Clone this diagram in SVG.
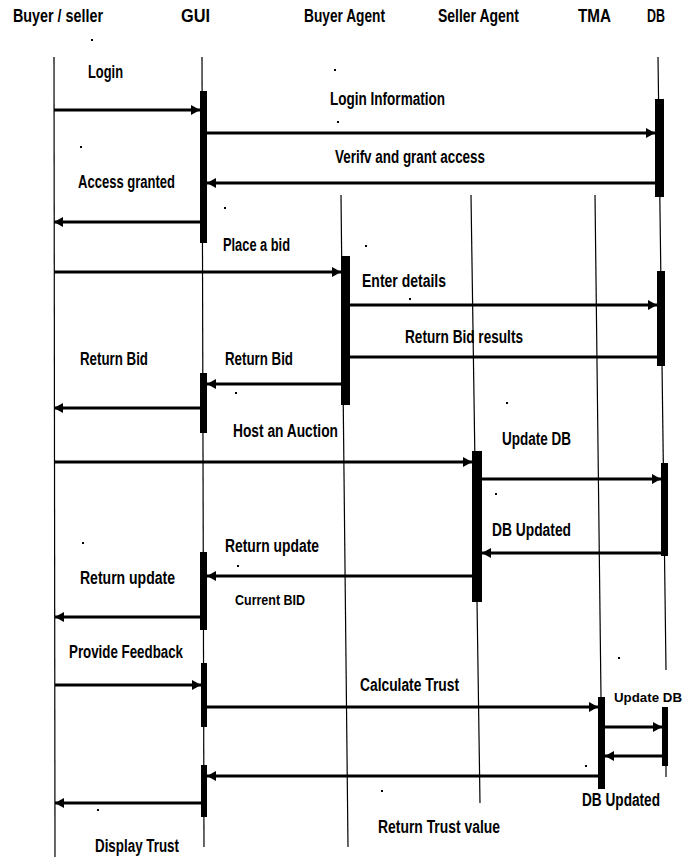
<svg xmlns="http://www.w3.org/2000/svg" width="685" height="857" viewBox="0 0 685 857">
<style>
.bg{fill:#ffffff}
.life{stroke:#000;stroke-width:1.2;fill:none}
.bar{fill:#000}
.msg{stroke:#000;stroke-width:3;fill:none}
.arr{marker-end:url(#ah)}
.t{font-family:"Liberation Sans",Arial,sans-serif;font-weight:bold;font-size:18px;fill:#000}
.s{font-size:15px}
.e{font-size:13.5px}
.dot{fill:#000}
</style>
<defs>
<marker id="ah" markerUnits="userSpaceOnUse" markerWidth="9" markerHeight="10" refX="9" refY="5" orient="auto">
<path d="M0,0 L9,5 L0,10 z" fill="#000"/>
</marker>
</defs>
<rect class="bg" x="0" y="0" width="685" height="857"/>

<g id="headers">
<text class="t" x="13" y="22" textLength="90" lengthAdjust="spacingAndGlyphs">Buyer / seller</text>
<text class="t" x="181" y="22" textLength="29" lengthAdjust="spacingAndGlyphs">GUI</text>
<text class="t" x="304" y="22" textLength="81" lengthAdjust="spacingAndGlyphs">Buyer Agent</text>
<text class="t" x="438" y="22" textLength="81" lengthAdjust="spacingAndGlyphs">Seller Agent</text>
<text class="t" x="578" y="22" textLength="33" lengthAdjust="spacingAndGlyphs">TMA</text>
<text class="t" x="647" y="22" textLength="18" lengthAdjust="spacingAndGlyphs">DB</text>
</g>

<g id="lifeline-buyer-seller">
<line class="life" x1="54" y1="57" x2="55" y2="857"/>
</g>
<g id="lifeline-gui">
<line class="life" x1="202" y1="57" x2="204" y2="847"/>
<rect class="bar" x="200" y="91" width="7" height="152"/>
<rect class="bar" x="200" y="373" width="7" height="60"/>
<rect class="bar" x="200" y="552" width="7" height="78"/>
<rect class="bar" x="201" y="663" width="6" height="64"/>
<rect class="bar" x="201" y="765" width="6" height="52"/>
</g>
<g id="lifeline-buyer-agent">
<line class="life" x1="341" y1="195" x2="348" y2="847"/>
<rect class="bar" x="341" y="256" width="9" height="149"/>
</g>
<g id="lifeline-seller-agent">
<line class="life" x1="471" y1="195" x2="480" y2="803"/>
<rect class="bar" x="472" y="451" width="10" height="151"/>
</g>
<g id="lifeline-tma">
<line class="life" x1="595" y1="195" x2="601" y2="697"/>
<rect class="bar" x="598" y="697" width="7" height="92"/>
</g>
<g id="lifeline-db">
<line class="life" x1="658" y1="57" x2="666" y2="670"/>
<line class="life" x1="666" y1="766" x2="666" y2="777"/>
<rect class="bar" x="655" y="99" width="9" height="98"/>
<rect class="bar" x="657" y="271" width="8" height="95"/>
<rect class="bar" x="661" y="463" width="7" height="93"/>
<rect class="bar" x="662" y="707" width="6" height="59"/>
</g>

<g id="connectors">
<line class="msg arr" x1="54" y1="110" x2="200" y2="110"/>
<line class="msg arr" x1="207" y1="133" x2="655" y2="133"/>
<line class="msg arr" x1="655" y1="183" x2="207" y2="183"/>
<line class="msg arr" x1="200" y1="222" x2="54" y2="222"/>
<line class="msg arr" x1="54" y1="272" x2="341" y2="272"/>
<line class="msg arr" x1="350" y1="305" x2="657" y2="305"/>
<line class="msg" x1="665" y1="357" x2="350" y2="357"/>
<line class="msg arr" x1="341" y1="384" x2="207" y2="384"/>
<line class="msg arr" x1="200" y1="408" x2="54" y2="408"/>
<line class="msg arr" x1="54" y1="462" x2="472" y2="462"/>
<line class="msg arr" x1="482" y1="479" x2="661" y2="479"/>
<line class="msg arr" x1="661" y1="553" x2="482" y2="553"/>
<line class="msg arr" x1="472" y1="576" x2="207" y2="576"/>
<line class="msg arr" x1="200" y1="617" x2="55" y2="617"/>
<line class="msg arr" x1="55" y1="685" x2="201" y2="685"/>
<line class="msg arr" x1="207" y1="707" x2="598" y2="707"/>
<line class="msg arr" x1="605" y1="727" x2="662" y2="727"/>
<line class="msg arr" x1="662" y1="756" x2="605" y2="756"/>
<line class="msg arr" x1="598" y1="776" x2="207" y2="776"/>
<line class="msg arr" x1="201" y1="803" x2="55" y2="803"/>
</g>

<g id="labels">
<text class="t" x="88" y="78" textLength="35" lengthAdjust="spacingAndGlyphs">Login</text>
<text class="t" x="330" y="105" textLength="115" lengthAdjust="spacingAndGlyphs">Login Information</text>
<text class="t" x="335" y="163" textLength="150" lengthAdjust="spacingAndGlyphs">Verifv and grant access</text>
<text class="t" x="78" y="188" textLength="97" lengthAdjust="spacingAndGlyphs">Access granted</text>
<text class="t" x="223" y="251" textLength="67" lengthAdjust="spacingAndGlyphs">Place a bid</text>
<text class="t" x="362" y="287" textLength="84" lengthAdjust="spacingAndGlyphs">Enter details</text>
<text class="t" x="405" y="343" textLength="118" lengthAdjust="spacingAndGlyphs">Return Bid results</text>
<text class="t" x="80" y="365" textLength="68" lengthAdjust="spacingAndGlyphs">Return Bid</text>
<text class="t" x="225" y="365" textLength="68" lengthAdjust="spacingAndGlyphs">Return Bid</text>
<text class="t" x="233" y="437" textLength="105" lengthAdjust="spacingAndGlyphs">Host an Auction</text>
<text class="t" x="502" y="445" textLength="69" lengthAdjust="spacingAndGlyphs">Update DB</text>
<text class="t" x="492" y="536" textLength="79" lengthAdjust="spacingAndGlyphs">DB Updated</text>
<text class="t" x="225" y="552" textLength="94" lengthAdjust="spacingAndGlyphs">Return update</text>
<text class="t" x="80" y="584" textLength="95" lengthAdjust="spacingAndGlyphs">Return update</text>
<text class="t s" x="235" y="605" textLength="70" lengthAdjust="spacingAndGlyphs">Current BID</text>
<text class="t" x="69" y="658" textLength="114" lengthAdjust="spacingAndGlyphs">Provide Feedback</text>
<text class="t" x="360" y="691" textLength="99" lengthAdjust="spacingAndGlyphs">Calculate Trust</text>
<text class="t e" x="614" y="702" textLength="68" lengthAdjust="spacingAndGlyphs">Update DB</text>
<text class="t" x="582" y="806" textLength="78" lengthAdjust="spacingAndGlyphs">DB Updated</text>
<text class="t" x="378" y="833" textLength="122" lengthAdjust="spacingAndGlyphs">Return Trust value</text>
<text class="t" x="95" y="852" textLength="84" lengthAdjust="spacingAndGlyphs">Display Trust</text>
</g>

<g id="dots">
<rect class="dot" x="91" y="39" width="2" height="2"/>
<rect class="dot" x="334" y="69" width="2" height="2"/>
<rect class="dot" x="337" y="121" width="2" height="2"/>
<rect class="dot" x="80" y="146" width="2" height="2"/>
<rect class="dot" x="224" y="207" width="2" height="2"/>
<rect class="dot" x="365" y="245" width="2" height="2"/>
<rect class="dot" x="409" y="298" width="2" height="2"/>
<rect class="dot" x="235" y="392" width="2" height="2"/>
<rect class="dot" x="506" y="402" width="2" height="2"/>
<rect class="dot" x="495" y="493" width="2" height="2"/>
<rect class="dot" x="82" y="542" width="2" height="2"/>
<rect class="dot" x="237" y="565" width="2" height="2"/>
<rect class="dot" x="618" y="657" width="2" height="2"/>
<rect class="dot" x="585" y="765" width="2" height="2"/>
<rect class="dot" x="381" y="790" width="2" height="2"/>
<rect class="dot" x="97" y="809" width="2" height="2"/>
</g>
</svg>
